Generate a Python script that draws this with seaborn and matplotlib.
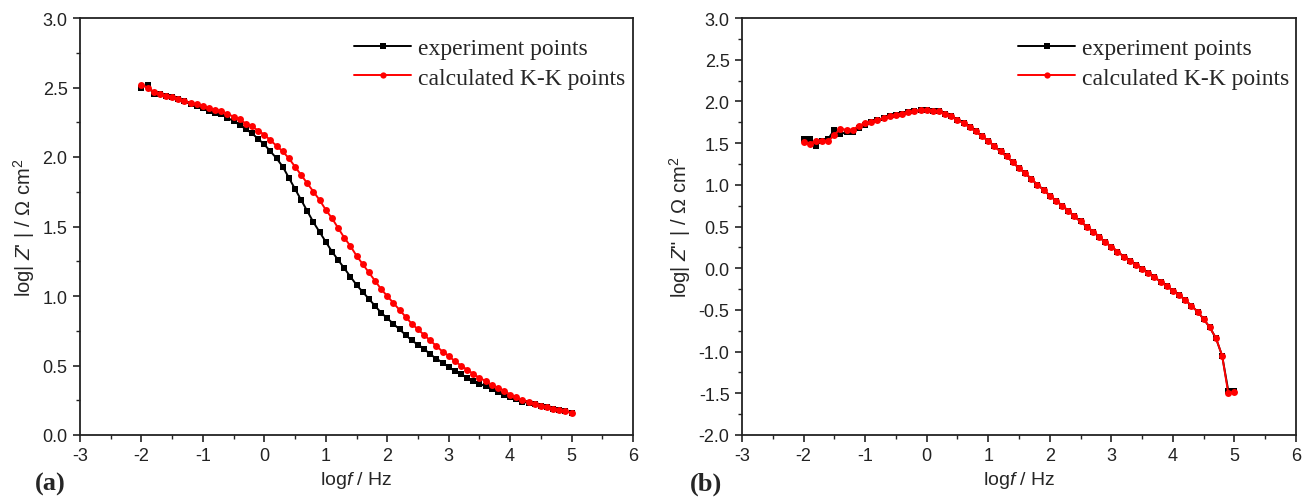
import numpy as np
import pandas as pd
import seaborn as sns
import matplotlib
matplotlib.use("Agg")
import matplotlib.pyplot as plt
from matplotlib.ticker import MultipleLocator

# ---------------- data ----------------
logf = [-2.0, -1.9, -1.8, -1.7, -1.6, -1.5, -1.4, -1.3, -1.2, -1.1,
        -1.0, -0.9, -0.8, -0.7, -0.6, -0.5, -0.4, -0.3, -0.2, -0.1,
        0.0, 0.1, 0.2, 0.3, 0.4, 0.5, 0.6, 0.7, 0.8, 0.9,
        1.0, 1.1, 1.2, 1.3, 1.4, 1.5, 1.6, 1.7, 1.8, 1.9,
        2.0, 2.1, 2.2, 2.3, 2.4, 2.5, 2.6, 2.7, 2.8, 2.9,
        3.0, 3.1, 3.2, 3.3, 3.4, 3.5, 3.6, 3.7, 3.8, 3.9,
        4.0, 4.1, 4.2, 4.3, 4.4, 4.5, 4.6, 4.7, 4.8, 4.9, 5.0]

zre_exp = [2.50, 2.52, 2.45, 2.45, 2.44, 2.43, 2.42, 2.40, 2.38, 2.37,
           2.35, 2.33, 2.32, 2.31, 2.28, 2.26, 2.23, 2.20, 2.17, 2.13,
           2.09, 2.04, 1.99, 1.93, 1.85, 1.77, 1.69, 1.61, 1.53, 1.46,
           1.39, 1.32, 1.26, 1.20, 1.14, 1.08, 1.03, 0.98, 0.93, 0.88,
           0.84, 0.80, 0.76, 0.72, 0.68, 0.65, 0.62, 0.58, 0.55, 0.52,
           0.49, 0.46, 0.44, 0.41, 0.39, 0.37, 0.35, 0.33, 0.31, 0.29,
           0.27, 0.26, 0.24, 0.23, 0.22, 0.21, 0.20, 0.19, 0.18, 0.17, 0.16]

zre_kk = [2.52, 2.50, 2.47, 2.45, 2.44, 2.43, 2.42, 2.40, 2.39, 2.38,
          2.37, 2.35, 2.34, 2.33, 2.31, 2.29, 2.27, 2.24, 2.22, 2.19,
          2.16, 2.12, 2.08, 2.04, 1.99, 1.93, 1.87, 1.81, 1.75, 1.69,
          1.62, 1.56, 1.49, 1.42, 1.36, 1.29, 1.23, 1.17, 1.11, 1.05,
          1.00, 0.95, 0.90, 0.85, 0.80, 0.76, 0.72, 0.68, 0.64, 0.60,
          0.57, 0.53, 0.50, 0.47, 0.44, 0.41, 0.39, 0.36, 0.34, 0.32,
          0.29, 0.27, 0.25, 0.24, 0.22, 0.21, 0.20, 0.19, 0.18, 0.17, 0.16]

zim_exp = [1.55, 1.55, 1.47, 1.53, 1.55, 1.66, 1.61, 1.63, 1.63, 1.68,
           1.72, 1.75, 1.78, 1.80, 1.82, 1.84, 1.85, 1.87, 1.88, 1.90,
           1.90, 1.89, 1.88, 1.85, 1.82, 1.78, 1.74, 1.69, 1.64, 1.58,
           1.53, 1.46, 1.40, 1.34, 1.27, 1.20, 1.14, 1.07, 1.00, 0.94,
           0.87, 0.81, 0.75, 0.69, 0.62, 0.56, 0.50, 0.44, 0.38, 0.31,
           0.26, 0.20, 0.14, 0.09, 0.04, -0.01, -0.06, -0.11, -0.16, -0.21,
           -0.27, -0.32, -0.38, -0.45, -0.52, -0.61, -0.71, -0.84, -1.05, -1.47, -1.47]

zim_kk = [1.51, 1.49, 1.53, 1.53, 1.52, 1.60, 1.67, 1.66, 1.66, 1.71,
          1.74, 1.75, 1.78, 1.80, 1.82, 1.84, 1.85, 1.87, 1.88, 1.90,
          1.90, 1.89, 1.88, 1.85, 1.82, 1.78, 1.74, 1.69, 1.64, 1.58,
          1.53, 1.46, 1.40, 1.34, 1.27, 1.20, 1.14, 1.07, 1.00, 0.94,
          0.87, 0.81, 0.75, 0.69, 0.62, 0.56, 0.50, 0.44, 0.38, 0.31,
          0.26, 0.20, 0.14, 0.09, 0.04, -0.01, -0.06, -0.11, -0.16, -0.21,
          -0.27, -0.32, -0.38, -0.45, -0.52, -0.61, -0.71, -0.84, -1.05, -1.50, -1.49]

series_names = ["experiment points", "calculated K-K points"]
x_ticks = [-3, -2, -1, 0, 1, 2, 3, 4, 5, 6]

# ---------------- style ----------------
sns.set_theme(style="ticks")
plt.rcParams["font.family"] = ["Liberation Sans", "DejaVu Sans"]
plt.rcParams["axes.unicode_minus"] = False
plt.rcParams["mathtext.fontset"] = "custom"
plt.rcParams["mathtext.rm"] = "Liberation Sans"
plt.rcParams["mathtext.it"] = "Liberation Sans:italic"
plt.rcParams["mathtext.bf"] = "Liberation Sans:bold"

W, H = 1309, 502
fig = plt.figure(figsize=(W / 100, H / 100), dpi=100)

def box(l, r, t, b):
    return [l / W, 1 - b / H, (r - l) / W, (b - t) / H]

ax_a = fig.add_axes(box(80, 633, 19, 436))
ax_b = fig.add_axes(box(742, 1296, 19, 436))

palette = {series_names[0]: "black", series_names[1]: "#ff0000"}
markers = {series_names[0]: "s", series_names[1]: "o"}


def make_df(y_exp, y_kk):
    return pd.concat([
        pd.DataFrame({"logf": logf, "val": y_exp, "series": series_names[0]}),
        pd.DataFrame({"logf": logf, "val": y_kk, "series": series_names[1]}),
    ], ignore_index=True)


panels = [
    (ax_a, make_df(zre_exp, zre_kk), (0.0, 3.0), r"log| $Z$' | / Ω cm$^2$", "(a)", 50, 353),
    (ax_b, make_df(zim_exp, zim_kk), (-2.0, 3.0), r'log| $Z$" | / Ω cm$^2$', "(b)", 706, 1017),
]

for ax, df, ylim, ylabel, tag, tag_x, leg_x in panels:
    sns.lineplot(data=df, x="logf", y="val", hue="series", style="series",
                 palette=palette, markers=markers, dashes=False,
                 hue_order=series_names, style_order=series_names,
                 linewidth=1.4, markersize=5.0, markeredgewidth=0,
                 ax=ax, legend=True, sort=False)
    ax.set_xlim(-3, 6)
    ax.set_ylim(*ylim)
    ax.set_xticks(x_ticks)
    ax.xaxis.set_minor_locator(MultipleLocator(0.5))
    ax.yaxis.set_major_locator(MultipleLocator(0.5))
    ax.yaxis.set_minor_locator(MultipleLocator(0.25))
    ax.yaxis.set_major_formatter(matplotlib.ticker.FormatStrFormatter("%.1f"))
    ax.tick_params(which="major", direction="out", length=5, width=1.2,
                   labelsize=13, colors="#222222", pad=4)
    ax.tick_params(which="minor", direction="out", length=3, width=1.0, colors="#222222")
    ax.tick_params(top=False, right=False, which="both")
    for sp in ax.spines.values():
        sp.set_visible(True)
        sp.set_linewidth(1.3)
        sp.set_color("#222222")
    ax.set_xlabel(r"log$f$ / Hz", fontsize=14, labelpad=3)
    ax.set_ylabel(ylabel, fontsize=14.5, labelpad=4)
    ax.grid(False)

    leg = ax.legend(loc="upper left",
                    bbox_to_anchor=((leg_x - 8) / W, 1 - 29 / H),
                    bbox_transform=fig.transFigure,
                    frameon=False, handlelength=2.4, handletextpad=0.3,
                    labelspacing=0.35, borderaxespad=0,
                    prop={"family": "Liberation Serif", "size": 17})
    for h in leg.legend_handles:
        h.set_markersize(4.5)

    fig.text(tag_x / W, 1 - 484 / H, tag, ha="center", va="center",
             fontsize=19, fontweight="bold", family="Liberation Serif")

fig.savefig("out.png", dpi=100)
